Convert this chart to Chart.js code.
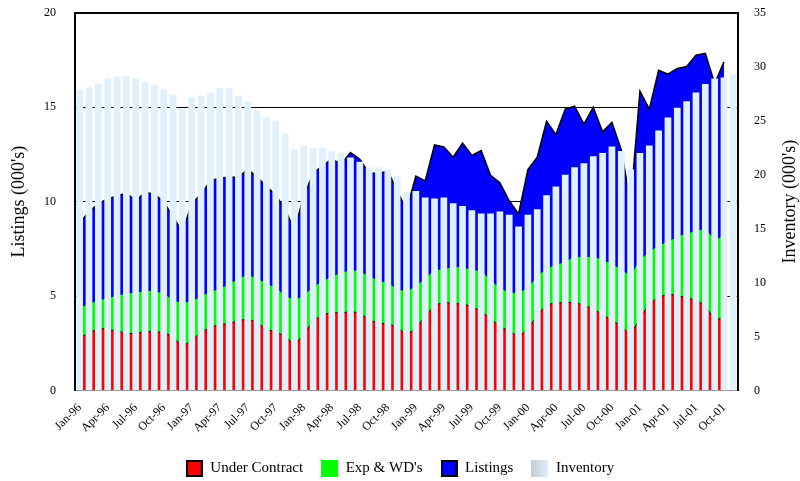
<!DOCTYPE html>
<html>
<head>
<meta charset="utf-8">
<script src="https://cdn.jsdelivr.net/npm/chart.js@4/dist/chart.umd.min.js"></script>
<style>
html, body { margin: 0; padding: 0; background: #fff; }
#wrap { width: 800px; height: 481px; }
</style>
</head>
<body>
<div id="wrap"><canvas id="chart" width="800" height="481"></canvas></div>
<script>
const months = [
    'Jan-96', 'Feb-96', 'Mar-96', 'Apr-96', 'May-96', 'Jun-96', 'Jul-96', 'Aug-96', 'Sep-96', 'Oct-96', 'Nov-96', 'Dec-96',
    'Jan-97', 'Feb-97', 'Mar-97', 'Apr-97', 'May-97', 'Jun-97', 'Jul-97', 'Aug-97', 'Sep-97', 'Oct-97', 'Nov-97', 'Dec-97',
    'Jan-98', 'Feb-98', 'Mar-98', 'Apr-98', 'May-98', 'Jun-98', 'Jul-98', 'Aug-98', 'Sep-98', 'Oct-98', 'Nov-98', 'Dec-98',
    'Jan-99', 'Feb-99', 'Mar-99', 'Apr-99', 'May-99', 'Jun-99', 'Jul-99', 'Aug-99', 'Sep-99', 'Oct-99', 'Nov-99', 'Dec-99',
    'Jan-00', 'Feb-00', 'Mar-00', 'Apr-00', 'May-00', 'Jun-00', 'Jul-00', 'Aug-00', 'Sep-00', 'Oct-00', 'Nov-00', 'Dec-00',
    'Jan-01', 'Feb-01', 'Mar-01', 'Apr-01', 'May-01', 'Jun-01', 'Jul-01', 'Aug-01', 'Sep-01', 'Oct-01', 'Nov-01'
];

// stacked areas, left axis (000's)
const underContract = [
    2.8, 3.05, 3.3, 3.25, 3.15, 3.05, 3.0, 3.15, 3.1, 3.1, 2.85, 2.35,
    2.65, 3.1, 3.35, 3.5, 3.55, 3.7, 3.8, 3.6, 3.25, 3.1, 2.9, 2.4,
    3.0, 3.7, 4.0, 4.15, 4.1, 4.2, 4.1, 3.75, 3.55, 3.55, 3.35, 2.95,
    3.3, 3.95, 4.5, 4.7, 4.6, 4.6, 4.45, 4.2, 3.8, 3.4, 3.15, 2.85,
    3.25, 4.0, 4.55, 4.65, 4.65, 4.7, 4.5, 4.35, 4.0, 3.75, 3.4, 2.95,
    3.85, 4.6, 4.95, 5.1, 5.05, 4.9, 4.8, 4.5, 3.75, 3.85
];
const expWd = [
    1.55, 1.5, 1.45, 1.6, 1.85, 2.05, 2.15, 2.1, 2.15, 2.0, 1.9, 2.25,
    2.05, 1.85, 1.85, 1.85, 2.05, 2.2, 2.3, 2.3, 2.4, 2.3, 2.1, 2.35,
    2.0, 1.75, 1.75, 1.85, 2.1, 2.15, 2.2, 2.25, 2.25, 2.1, 2.0, 2.25,
    2.2, 1.95, 1.85, 1.7, 1.9, 1.9, 1.9, 2.1, 2.0, 2.0, 2.0, 2.3,
    2.15, 2.0, 1.9, 1.95, 2.15, 2.35, 2.55, 2.7, 2.9, 2.9, 3.0, 3.05,
    3.05, 2.7, 2.7, 2.75, 3.05, 3.4, 3.6, 4.05, 4.15, 4.35
];
const listings = [
    4.55, 4.9, 5.15, 5.3, 5.3, 5.35, 4.9, 5.25, 5.15, 4.9, 4.45, 3.8,
    5.2, 5.45, 5.9, 5.9, 5.7, 5.4, 5.6, 5.4, 5.15, 4.95, 4.6, 3.75,
    5.3, 6.05, 6.15, 6.25, 5.8, 6.25, 5.95, 5.5, 5.7, 5.95, 5.25, 4.35,
    5.85, 5.2, 6.65, 6.5, 5.85, 6.6, 6.1, 6.4, 5.6, 5.6, 4.9, 4.2,
    6.3, 6.35, 7.8, 6.95, 8.1, 8.0, 7.05, 7.95, 6.8, 7.55, 6.35, 3.9,
    8.95, 7.6, 9.3, 8.9, 8.95, 8.85, 9.35, 9.3, 8.35, 9.2
];
// bars, right axis (000's)
const inventory = [
    27.9, 28.1, 28.45, 28.9, 29.1, 29.1, 28.9, 28.6, 28.3, 27.9, 27.4, 26.1,
    27.2, 27.3, 27.6, 28.0, 28.0, 27.3, 26.8, 25.95, 25.3, 25.0, 23.8, 22.35,
    22.7, 22.5, 22.5, 22.2, 22.0, 21.6, 21.2, 20.7, 20.7, 20.5, 19.85, 18.4,
    18.5, 17.9, 17.8, 17.9, 17.35, 17.1, 16.7, 16.4, 16.4, 16.6, 16.3, 15.2,
    16.3, 16.8, 18.1, 18.9, 20.0, 20.7, 21.05, 21.7, 22.0, 22.6, 22.2, 20.5,
    22.0, 22.7, 24.1, 25.3, 26.2, 26.8, 27.6, 28.4, 28.9, 29.0, 29.3
];

const serif = '"Liberation Serif", "Times New Roman", serif';
const barColor = '#e0f0fc';
const clear = 'rgba(0,0,0,0)';

// little canvases used as legend swatches
function swatch(fill, stroke) {
    const c = document.createElement('canvas');
    c.width = 17;
    c.height = 17;
    const g = c.getContext('2d');
    if (fill === 'gradient') {
        const grad = g.createLinearGradient(0, 0, 17, 0);
        grad.addColorStop(0, '#c4ccd6');
        grad.addColorStop(1, barColor);
        g.fillStyle = grad;
    } else {
        g.fillStyle = fill;
    }
    g.fillRect(0, 0, 17, 17);
    if (stroke) {
        g.strokeStyle = stroke;
        g.lineWidth = 2;
        g.strokeRect(1, 1, 15, 15);
    }
    return c;
}
const swatches = [swatch('#ff0000', '#000'), swatch('#00ff00'), swatch('#0000ff', '#000'), swatch('gradient')];

// both axis titles read bottom-to-top
const axisTitles = {
    id: 'axisTitles',
    afterDraw(chart) {
        const { ctx, chartArea } = chart;
        const midY = (chartArea.top + chartArea.bottom) / 2;
        ctx.save();
        ctx.font = '18px ' + serif;
        ctx.fillStyle = '#000';
        ctx.textAlign = 'center';
        ctx.textBaseline = 'middle';
        [[19, "Listings (000's)"], [790, "Inventory (000's)"]].forEach(([x, text]) => {
            ctx.save();
            ctx.translate(x, midY);
            ctx.rotate(-Math.PI / 2);
            ctx.fillText(text, 0, 0);
            ctx.restore();
        });
        ctx.restore();
    }
};

const tickFont = { family: serif, size: 12 };

new Chart(document.getElementById('chart'), {
    type: 'bar',
    data: {
        labels: months,
        datasets: [
            {
                type: 'line',
                label: 'Under Contract',
                data: underContract,
                backgroundColor: '#ff0000',
                borderColor: '#000',
                borderWidth: 1,
                fill: 'origin',
                pointRadius: 0,
                tension: 0,
                order: 1,
                yAxisID: 'y'
            },
            {
                type: 'line',
                label: "Exp & WD's",
                data: expWd,
                backgroundColor: '#00ff00',
                borderColor: '#00ff00',
                borderWidth: 1,
                fill: '-1',
                pointRadius: 0,
                tension: 0,
                order: 2,
                yAxisID: 'y'
            },
            {
                type: 'line',
                label: 'Listings',
                data: listings,
                backgroundColor: '#0000ff',
                borderColor: '#000',
                borderWidth: 1.5,
                fill: '-1',
                pointRadius: 0,
                tension: 0,
                order: 3,
                yAxisID: 'y'
            },
            {
                type: 'bar',
                label: 'Inventory',
                data: inventory,
                backgroundColor: barColor,
                borderWidth: 0,
                barPercentage: 0.72,
                categoryPercentage: 1,
                order: 0,
                yAxisID: 'y1'
            }
        ]
    },
    options: {
        responsive: false,
        animation: false,
        devicePixelRatio: 1,
        layout: {
            padding: { top: 12.7, bottom: -5, left: 0, right: 0 }
        },
        scales: {
            x: {
                offset: true,
                grid: { display: false },
                border: { display: true, color: '#9a9a9a', width: 1, z: 1 },
                ticks: {
                    autoSkip: false,
                    minRotation: 45,
                    maxRotation: 45,
                    padding: 2,
                    color: '#000',
                    font: tickFont,
                    callback(value, index) {
                        return index % 3 === 0 ? this.getLabelForValue(value) : '';
                    }
                },
                afterFit(scale) { scale.height = 52.3; }
            },
            y: {
                position: 'left',
                stacked: true,
                min: 0,
                max: 20,
                ticks: { stepSize: 5, padding: 3, color: '#000', font: tickFont },
                grid: {
                    color: '#000',
                    drawTicks: true,
                    tickLength: 16,
                    tickColor: clear,
                    lineWidth: (ctx) => (ctx.tick && ctx.tick.value === 20 ? 2 : 1)
                },
                border: { color: '#000', width: 2, z: 1 },
                afterFit(scale) { scale.width = 75; }
            },
            y1: {
                position: 'right',
                min: 0,
                max: 35,
                ticks: { stepSize: 5, padding: 3, color: '#000', font: tickFont },
                grid: { display: true, drawOnChartArea: false, drawTicks: true, tickLength: 13, tickColor: clear },
                border: { color: '#000', width: 2, z: 1 },
                afterFit(scale) { scale.width = 62; }
            }
        },
        plugins: {
            tooltip: { enabled: false },
            legend: {
                display: true,
                position: 'bottom',
                labels: {
                    usePointStyle: true,
                    pointStyleWidth: 17,
                    padding: 18,
                    color: '#000',
                    font: { family: serif, size: 15 },
                    generateLabels(chart) {
                        return chart.data.datasets.map((ds, i) => ({
                            text: ds.label,
                            datasetIndex: i,
                            pointStyle: swatches[i],
                            fillStyle: clear,
                            strokeStyle: clear,
                            lineWidth: 0,
                            hidden: false,
                            fontColor: '#000'
                        }));
                    }
                }
            }
        }
    },
    plugins: [axisTitles]
});
</script>
</body>
</html>
